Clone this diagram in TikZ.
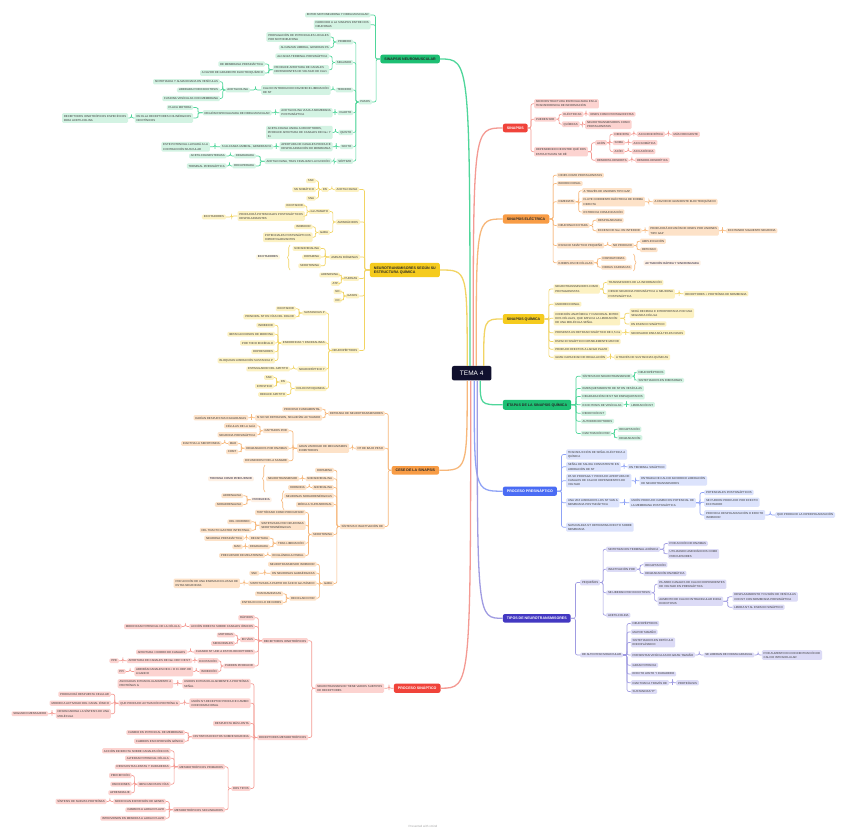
\documentclass[tikz,border=0pt]{standalone}
\usepackage{fontspec}
\setmainfont{Liberation Sans}
\usetikzlibrary{calc,decorations.pathreplacing}

% colori dei rami
\definecolor{navy}{HTML}{10102E}
\definecolor{grmain}{HTML}{1DBF73}
\definecolor{grsub}{HTML}{D3F3E3}
\definecolor{grline}{HTML}{4FD69A}
\definecolor{yemain}{HTML}{F5CB1E}
\definecolor{yesub}{HTML}{FCF1C2}
\definecolor{yeline}{HTML}{F2D463}
\definecolor{ormain}{HTML}{F89C45}
\definecolor{orsub}{HTML}{FDE2C8}
\definecolor{orline}{HTML}{F7B77A}
\definecolor{remain}{HTML}{F0433A}
\definecolor{resub}{HTML}{FCD3D0}
\definecolor{reline}{HTML}{F49A93}
\definecolor{blmain}{HTML}{4A6CF4}
\definecolor{blsub}{HTML}{DCE3FC}
\definecolor{blline}{HTML}{8FA3F6}
\definecolor{inmain}{HTML}{4338C2}
\definecolor{insub}{HTML}{DCDBF6}
\definecolor{inln}{HTML}{A09CE2}

\tikzset{
  sub/.style={rounded corners=1.2pt, inner xsep=1.8pt, inner ysep=1.4pt, align=left,
    text=black!78, font=\fontsize{2.85}{4.3}\selectfont},
  gs/.style={sub, fill=grsub}, ys/.style={sub, fill=yesub}, os/.style={sub, fill=orsub},
  rs/.style={sub, fill=resub}, bs/.style={sub, fill=blsub}, is/.style={sub, fill=insub},
  summ/.style={sub, text=navy},
  mainbox/.style={rounded corners=2pt, inner xsep=4pt, inner ysep=3pt, align=left,
    text=black!85, font=\fontsize{3.6}{4.4}\selectfont\bfseries},
  L/.style={anchor=east}, R/.style={anchor=west},
  lk/.style={to path={(\tikztostart) -| ($(\tikztostart)!.5!(\tikztotarget)$) |- (\tikztotarget)}},
  cn/.style={line width=0.65pt, rounded corners=2pt},
  mainln/.style={line width=1.3pt},
  sumbrace/.style={decorate, decoration={brace, amplitude=2.5pt}, line width=0.6pt},
}

\begin{document}
\begin{tikzpicture}[x=1pt,y=-1pt]
  \fill[white] (0,0) rectangle (848,834);
  \useasboundingbox (0,0) rectangle (848,834);

  % --- nodo centrale ---
  \node[fill=navy, text=white, rounded corners=2pt, inner xsep=8pt, inner ysep=5pt,
    font=\fontsize{6.5}{7}\selectfont] (tema) at (471.7,373.2) {TEMA 4};

  % --- rami principali ---
  \node[mainbox, fill=grmain, L] (nm) at (440,59) {SINAPSIS NEUROMUSCULAR};
  \node[mainbox, fill=yemain, L] (nt) at (440,270) {NEUROTRANSMISORES SEGÚN SU\\ESTRUCTURA QUÍMICA};
  \node[mainbox, fill=ormain, L] (ce) at (439.3,470.3) {CESE DE LA SINAPSIS};
  \node[mainbox, fill=remain, text=white, L] (ps) at (440.7,688.2) {PROCESO SINÁPTICO};
  \node[mainbox, fill=remain, text=white, R] (si) at (502.7,128) {SINAPSIS};
  \node[mainbox, fill=ormain, R] (el) at (502.7,219) {SINAPSIS ELÉCTRICA};
  \node[mainbox, fill=yemain, R] (qu) at (502.7,319) {SINAPSIS QUÍMICA};
  \node[mainbox, fill=grmain, R] (et) at (502.7,404.8) {ETAPAS DE LA SINAPSIS QUÍMICA};
  \node[mainbox, fill=blmain, text=white, R] (pr) at (502.7,491.2) {PROCESO PRESINÁPTICO};
  \node[mainbox, fill=inmain, text=white, R] (ti) at (502.7,618.3) {TIPOS DE NEUROTRANSMISORES};

  % archi dal centro
  \coordinate (s1) at ([xshift=-1.7pt]tema.north);
  \coordinate (s2) at ([xshift=-4.5pt]tema.north);
  \coordinate (s3) at ([xshift=1.5pt]tema.north);
  \coordinate (s4) at ([xshift=4.5pt]tema.north);
  \coordinate (s5) at ([xshift=12pt]tema.north);
  \coordinate (t1) at ([xshift=-4.5pt]tema.south);
  \coordinate (t2) at ([xshift=-1pt]tema.south);
  \coordinate (t3) at ([xshift=2.5pt]tema.south);
  \coordinate (t4) at ([xshift=5.5pt]tema.south);
  \coordinate (t5) at ([xshift=8.5pt]tema.south);
  \draw[mainln, grline] (s1) .. controls (s1 |- nm.east) .. (nm.east);
  \draw[mainln, yeline] (s2) .. controls (s2 |- nt.east) .. (nt.east);
  \draw[mainln, reline] (s3) .. controls (s3 |- si.west) .. (si.west);
  \draw[mainln, orline] (s4) .. controls (s4 |- el.west) .. (el.west);
  \draw[mainln, yeline] (s5) .. controls (s5 |- qu.west) .. (qu.west);
  \draw[mainln, orline] (t1) .. controls (t1 |- ce.east) .. (ce.east);
  \draw[mainln, reline] (t2) .. controls (t2 |- ps.east) .. (ps.east);
  \draw[mainln, blline] (t3) .. controls (t3 |- pr.west) .. (pr.west);
  \draw[mainln, inln] (t4) .. controls (t4 |- ti.west) .. (ti.west);
  \draw[mainln, grline] (t5) .. controls (t5 |- et.west) .. (et.west);

  % --- Sinapsis neuromuscolare ---
  \node[gs,L] (nm1) at (370.7,15) {ENTRE MOTONEURONA Y FIBRA MUSCULAR};
  \node[gs,L] (nm2) at (370.7,24.7) {PARECIDO A LA SINAPSIS ENTRE DOS\\NEURONAS};
  \node[gs,L] (nm3) at (372,102) {PASOS};
  \node[gs,L] (nm31) at (353.3,42) {PRIMERO};
  \node[gs,L] (nm32) at (353.3,62.5) {SEGUNDO};
  \node[gs,L] (nm33) at (353.3,90) {TERCERO};
  \node[gs,L] (nm34) at (353.3,112.8) {CUARTO};
  \node[gs,L] (nm35) at (353.3,132.5) {QUINTO};
  \node[gs,L] (nm36) at (353.3,146.8) {SEXTO};
  \node[gs,L] (nm37) at (353.3,161.2) {SÉPTIMO};
  \node[gs,L] (nm311) at (330.7,37) {PROPAGACIÓN DE POTENCIALES LOCALES\\POR MOTONEURONA};
  \node[gs,L] (nm312) at (330.7,47.5) {ALCANZAN UMBRAL, GENERAN PA};
  \node[gs,L] (nm321) at (329.3,56) {ALCANZA TERMINAL PRESINÁPTICA};
  \node[gs,L] (nm322) at (329.3,69.8) {PRODUCE APERTURA DE CANALES\\DEPENDIENTES DE VOLTAJE DE CA2+};
  \node[gs,L] (nm3221) at (265,64) {DE MEMBRANA PRESINÁPTICA};
  \node[gs,L] (nm3222) at (265,73) {A FAVOR DE GRADIENTE ELECTROQUÍMICO};
  \node[gs,L] (nm331) at (330.7,90) {CALCIO INTRODUCIDO FAVORECE LIBERACIÓN\\DE NT};
  \node[gs,L] (nm3311) at (250,90) {ACETILCOLINA};
  \node[gs,L] (nm33111) at (220,81.7) {SINTETIZADA Y ALMACENADA EN VESÍCULAS};
  \node[gs,L] (nm33112) at (220,90) {LIBERADA POR EXOCITOSIS};
  \node[gs,L] (nm33113) at (220,98.5) {FUSIONA VESÍCULAS CON MEMBRANA};
  \node[gs,L] (nm341) at (332.7,112.8) {ACETILCOLINA VIAJA A MEMBRANA\\POSTSINÁPTICA};
  \node[gs,L] (nm3411) at (271.7,112.8) {REGIÓN ESPECIALIZADA DE FIBRA MUSCULAR};
  \node[gs,L] (nm34111) at (193.3,107.5) {PLACA MOTORA};
  \node[gs,L] (nm34112) at (193.3,118) {EN ELLA RECEPTORES COLINÉRGICOS\\NICOTÍNICOS};
  \node[gs,L] (nm341121) at (128.3,118) {RECEPTORES IONOTRÓPICOS ESPECÍFICOS\\PARA ACETILCOLINA};
  \node[gs,L] (nm351) at (332.7,132.5) {ACETILCOLINA UNIDA A RECEPTORES,\\PRODUCE APERTURA DE CANALES DE Na+ Y\\K+};
  \node[gs,L] (nm361) at (332.7,146.8) {APERTURA DE CANALES PRODUCE\\DESPOLARIZACIÓN DE MEMBRANA};
  \node[gs,L] (nm3611) at (273.3,146.8) {SI ALCANZA UMBRAL, GENERAN PA};
  \node[gs,L] (nm36111) at (210,146.8) {ESTE POTENCIAL LLEVARÁ A LA\\CONTRACCIÓN MUSCULAR};
  \node[gs,L] (nm371) at (331.7,161.3) {ACETILCOLINA, TRAS FINALIZAR LA FUNCIÓN};
  \node[gs,L] (nm3711) at (256,156) {DEGRADADA};
  \node[gs,L] (nm37111) at (226.7,156) {ACETILCOLINESTERASA};
  \node[gs,L] (nm3712) at (256,166) {RECUPERADA};
  \node[gs,L] (nm37121) at (226.7,166) {TERMINAL PRESINÁPTICA};
  \foreach \pa/\ch in {nm/nm1, nm/nm2, nm/nm3, nm3/nm31, nm3/nm32, nm3/nm33, nm3/nm34,
      nm3/nm35, nm3/nm36, nm3/nm37, nm31/nm311, nm31/nm312, nm32/nm321, nm32/nm322,
      nm322/nm3221, nm322/nm3222, nm33/nm331, nm331/nm3311, nm3311/nm33111,
      nm3311/nm33112, nm3311/nm33113, nm34/nm341, nm341/nm3411, nm3411/nm34111,
      nm3411/nm34112, nm34112/nm341121, nm35/nm351, nm36/nm361, nm361/nm3611,
      nm3611/nm36111, nm37/nm371, nm371/nm3711, nm371/nm3712, nm3711/nm37111,
      nm3712/nm37121}
    \draw[cn, grline] (\pa.west) to[lk] (\ch.east);

  % --- Neurotrasmettitori ---
  \node[ys,L] (nt1) at (359.3,189.5) {ACETILCOLINA};
  \node[ys,L] (nt11) at (329,189.5) {EN};
  \node[ys,L] (nt111) at (316,180.8) {SNC};
  \node[ys,L] (nt112) at (316,189.5) {SN SOMÁTICO};
  \node[ys,L] (nt113) at (316,198.2) {SNA};
  \node[ys,L] (nt2) at (360,222) {AMINOÁCIDOS};
  \node[ys,L] (nt21) at (330,211.5) {GLUTAMATO};
  \node[ys,L] (nt211) at (305,205.8) {EXCITADOR};
  \node[ys,L] (nt212) at (305,216) {PRODUCIRÁ POTENCIALES POSTSINÁPTICOS\\DESPOLARIZANTES};
  \node[ys,L] (nt2121) at (226,217) {EXCITADORES};
  \node[ys,L] (nt22) at (330,232.5) {GABA};
  \node[ys,L] (nt221) at (312.7,226.8) {INHIBIDOR};
  \node[ys,L] (nt222) at (312.7,237.3) {POTENCIALES POSTSINÁPTICOS\\HIPERPOLARIZANTES};
  \node[ys,L] (nt3) at (360,257) {AMINAS BIÓGENAS};
  \node[ys,L] (nt31) at (321,248.5) {NORADRENALINA};
  \node[ys,L] (nt32) at (321,257) {DOPAMINA};
  \node[ys,L] (nt33) at (321,265.8) {SEROTONINA};
  \node[summ, fill=yesub!50, L] (ntsum) at (280,257) {EXCITADORES};
  \draw[sumbrace, yeline] (290,270) -- (290,245);
  \node[ys,L] (nt4) at (359.3,278.5) {PURINAS};
  \node[ys,L] (nt41) at (340,275) {ADENOSINA};
  \node[ys,L] (nt42) at (340,283.5) {ATP};
  \node[ys,L] (nt5) at (359.3,296) {GASES};
  \node[ys,L] (nt51) at (341.7,291.8) {NO};
  \node[ys,L] (nt52) at (341.7,300.2) {CO};
  \node[ys,L] (nt6) at (359.3,350.5) {NEUROPÉPTIDOS};
  \node[ys,L] (nt61) at (326.7,313) {SUSTANCIAS P};
  \node[ys,L] (nt611) at (296,308.7) {EXCITADOR};
  \node[ys,L] (nt612) at (296,316.7) {PRINCIPAL NT EN VÍAS DEL DOLOR};
  \node[ys,L] (nt62) at (326.7,343) {ENDORFINAS Y ENCEFALINAS};
  \node[ys,L] (nt621) at (275,325.2) {INHIBIDOR};
  \node[ys,L] (nt622) at (275,334.2) {IMITAN ACCIONES DE MORFINA};
  \node[ys,L] (nt623) at (275,343) {POR TODO ENCÉFALO};
  \node[ys,L] (nt624) at (275,351.8) {DEPRESORES};
  \node[ys,L] (nt625) at (275,360.5) {BLOQUEAN LIBERACIÓN SUSTANCIA P};
  \node[ys,L] (nt63) at (326.7,369) {NEUROPÉPTIDO Y};
  \node[ys,L] (nt631) at (290,369) {ESTIMULADOR DEL APETITO};
  \node[ys,L] (nt64) at (326.7,388.5) {COLECISTOQUININA};
  \node[ys,L] (nt641) at (287,382) {EN};
  \node[ys,L] (nt6411) at (274,377.5) {SNC};
  \node[ys,L] (nt6412) at (274,386.2) {INTESTINO};
  \node[ys,L] (nt642) at (287,394.5) {REDUCE APETITO};
  \foreach \pa/\ch in {nt/nt1, nt/nt2, nt/nt3, nt/nt4, nt/nt5, nt/nt6, nt1/nt11,
      nt11/nt111, nt11/nt112, nt11/nt113, nt2/nt21, nt2/nt22, nt21/nt211, nt21/nt212,
      nt212/nt2121, nt22/nt221, nt22/nt222, nt3/nt31, nt3/nt32, nt3/nt33, nt4/nt41,
      nt4/nt42, nt5/nt51, nt5/nt52, nt6/nt61, nt6/nt62, nt6/nt63, nt6/nt64,
      nt61/nt611, nt61/nt612, nt62/nt621, nt62/nt622, nt62/nt623, nt62/nt624,
      nt62/nt625, nt63/nt631, nt64/nt641, nt64/nt642, nt641/nt6411, nt641/nt6412}
    \draw[cn, yeline] (\pa.west) to[lk] (\ch.east);

  % --- Cese de la sinapsis ---
  \node[os,L] (ce1) at (385,413.5) {RETIRADA DE NEUROTRANSMISORES};
  \node[os,L] (ce11) at (322.3,409.2) {PROCESO FUNDAMENTAL};
  \node[os,L] (ce12) at (322.3,417.8) {SI NO SE RETIRASEN, SEGUIRÍAN ACTUANDO};
  \node[os,L] (ce121) at (248.3,417.8) {DARÍAN RESPUESTAS EXAGERADAS};
  \node[os,L] (ce2) at (385,448.2) {NT DE BAJO PESO};
  \node[os,L] (ce21) at (349.3,448.2) {GRAN VARIEDAD DE MECANISMOS\\INHIBITORIOS};
  \node[os,L] (ce211) at (289,430.8) {CAPTADOS POR};
  \node[os,L] (ce2111) at (257.3,425.8) {CÉLULAS DE LA GLÍA};
  \node[os,L] (ce2112) at (257.3,434.8) {NEURONA PRESINÁPTICA};
  \node[os,L] (ce212) at (289,448.2) {DEGRADADOS POR ENZIMAS};
  \node[os,L] (ce2121) at (238.3,443.5) {MAO};
  \node[os,L] (ce21211) at (221.7,443.5) {INACTIVA LA SEROTONINA};
  \node[os,L] (ce2122) at (238.3,451.8) {COMT};
  \node[os,L] (ce213) at (289,460.8) {DIFUNDIDOS POR LA SANGRE};
  \node[os,L] (ce3) at (385,526.5) {SÍNTESIS E INACTIVACIÓN DE};
  \node[os,L] (ce31) at (334,470.2) {DOPAMINA};
  \node[os,L] (ce32) at (334,478.8) {NORADRENALINA};
  \node[os,L] (ce321) at (299.3,478.8) {NEUROTRANSMISOR};
  \node[os,L] (ce33) at (334,487.5) {ADRENALINA};
  \node[os,L] (ce331) at (306.7,487.5) {HORMONA};
  \node[os,L] (ce34) at (334,495.8) {NEURONAS NORADRENÉRGICAS};
  \node[os,L] (ce35) at (334,504.5) {MÉDULA SUPRARRENAL};
  \node[summ, fill=orsub!50, L] (cesum1) at (254,478.8) {TIROSINA COMO PRECURSOR};
  \draw[sumbrace, orline] (265,492) -- (265,465);
  \node[summ, fill=orsub!50, L] (cesum2) at (271.7,499.8) {PRODUCIDA};
  \draw[sumbrace, orline] (284,510) -- (284,490.7);
  \node[os,L] (cesum21) at (243.3,495.8) {ADRENALINA};
  \node[os,L] (cesum22) at (243.3,504.5) {NORADRENALINA};
  \node[os,L] (ce36) at (334,534.5) {SEROTONINA};
  \node[os,L] (ce361) at (305.7,512.5) {TRIPTÓFANO COMO PRECURSOR};
  \node[os,L] (ce362) at (305.7,525.3) {SINTETIZADA POR NEURONAS\\SEROTONINÉRGICAS};
  \node[os,L] (ce3621) at (251.7,521.8) {DEL CEREBRO};
  \node[os,L] (ce3622) at (251.7,530.2) {DEL TRACTO GASTRO INTESTINAL};
  \node[os,L] (ce363) at (305.7,543.2) {TRAS LIBERACIÓN};
  \node[os,L] (ce3631) at (270,538.2) {RECAPTADA};
  \node[os,L] (ce36311) at (244,538.2) {NEURONA PRESINÁPTICA};
  \node[os,L] (ce3632) at (270,546.8) {DEGRADADA};
  \node[os,L] (ce36321) at (242.7,546.8) {MAO};
  \node[os,L] (ce364) at (305.7,555.5) {EN GLÁNDULA PINEAL};
  \node[os,L] (ce3641) at (265,555.5) {PRECURSOR DE MELATONINA};
  \node[os,L] (ce37) at (334,583.5) {GABA};
  \node[os,L] (ce371) at (316.7,564.2) {NEUROTRANSMISOR INHIBIDOR};
  \node[os,L] (ce372) at (316.7,573.2) {EN NEURONAS GABAÉRGICAS};
  \node[os,L] (ce3721) at (259.3,573.2) {SNC};
  \node[os,L] (ce373) at (316.7,583.3) {SINTETIZADA A PARTIR DE ÁCIDO GLUTÁMICO};
  \node[os,L] (ce3731) at (240,583.3) {POR ACCIÓN DE UNA ENZIMA EXCLUSIVA DE\\ESTAS NEURONAS};
  \node[os,L] (ce374) at (316.7,598.2) {RECICLADO POR};
  \node[os,L] (ce3741) at (283.3,593.8) {TRANSAMINASAS};
  \node[os,L] (ce3742) at (283.3,602.5) {ENTRA EN CICLO DE KREBS};
  \foreach \pa/\ch in {ce/ce1, ce/ce2, ce/ce3, ce1/ce11, ce1/ce12, ce12/ce121, ce2/ce21,
      ce21/ce211, ce21/ce212, ce21/ce213, ce211/ce2111, ce211/ce2112, ce212/ce2121,
      ce212/ce2122, ce2121/ce21211, ce3/ce31, ce3/ce32, ce3/ce33, ce3/ce34, ce3/ce35,
      ce3/ce36, ce3/ce37, ce32/ce321, ce33/ce331, ce36/ce361, ce36/ce362, ce36/ce363,
      ce36/ce364, ce362/ce3621, ce362/ce3622, ce363/ce3631, ce363/ce3632,
      ce3631/ce36311, ce3632/ce36321, ce364/ce3641, ce37/ce371, ce37/ce372,
      ce37/ce373, ce37/ce374, ce372/ce3721, ce373/ce3731, ce374/ce3741,
      ce374/ce3742, cesum2/cesum21, cesum2/cesum22}
    \draw[cn, orline] (\pa.west) to[lk] (\ch.east);

  % --- Proceso sináptico ---
  \node[rs,L] (ps1) at (384.3,688.2) {NEUROTRANSMISOR TIENE VARIOS SUBTIPOS\\DE RECEPTORES};
  \node[rs,L] (ps11) at (308.3,640.8) {RECEPTORES IONOTRÓPICOS};
  \node[rs,L] (ps111) at (255,617.7) {RÁPIDOS};
  \node[rs,L] (ps112) at (255,626.5) {ACCIÓN DIRECTA SOBRE CANALES IÓNICOS};
  \node[rs,L] (ps1121) at (181.7,626.5) {MODIFICAN POTENCIAL DE LA CÉLULA};
  \node[rs,L] (ps113) at (255,639.5) {EN VÍAS};
  \node[rs,L] (ps1131) at (235,635) {MOTORAS};
  \node[rs,L] (ps1132) at (235,643.5) {SENSORIALES};
  \node[rs,L] (ps114) at (255,652) {CUANDO NT UNE A ESTOS RECEPTORES};
  \node[rs,L] (ps1141) at (187.3,652) {APERTURA / CIERRE DE CANALES};
  \node[rs,L] (ps115) at (255,666) {PUEDEN PRODUCIR};
  \node[rs,L] (ps1151) at (218.7,660.8) {EXCITACIÓN};
  \node[rs,L] (ps11511) at (192.3,660.8) {APERTURA DE CANALES DE Na+ DEP. DE NT};
  \node[rs,L] (ps115111) at (119,660.8) {PPE};
  \node[rs,L] (ps1152) at (218.7,671.5) {INHIBICIÓN};
  \node[rs,L] (ps11521) at (193.3,671.5) {ABRIRÁN CANALES DE K+ O Cl- DEP. DE\\LIGANDO};
  \node[rs,L] (ps115211) at (126,671.5) {PPI};
  \node[rs,L] (ps12) at (308.3,737.5) {RECEPTORES METABOTRÓPICOS};
  \node[rs,L] (ps121) at (250.7,683.7) {UNIDOS EXTRACELULARMENTE A PROTEÍNAS\\SEÑAL};
  \node[rs,L] (ps1211) at (173.3,683.7) {ASOCIADAS INTRACELULARMENTE A\\PROTEÍNAS G};
  \node[rs,L] (ps122) at (250.7,703.2) {UNIÓN NT-RECEPTOR PRODUCE CAMBIO\\CONFORMACIONAL};
  \node[rs,L] (ps1221) at (180,703.2) {QUE PRODUCE ACTIVACIÓN PROTEÍNA G};
  \node[rs,L] (ps12211) at (111,694.2) {PRODUCIRÁ RESPUESTA CELULAR};
  \node[rs,L] (ps12212) at (111,703.2) {MODIFICA ACTIVIDAD DEL CANAL IÓNICO};
  \node[rs,L] (ps12213) at (111,713.7) {DESENCADENA LA SÍNTESIS DE UNA\\MOLÉCULA};
  \node[rs,L] (ps122131) at (48.3,713.7) {SEGUNDO MENSAJERO};
  \node[rs,L] (ps123) at (250.7,723.5) {RESPUESTA MÁS LENTA};
  \node[rs,L] (ps124) at (250.7,736.8) {DISTINTOS EFECTOS SOBRE NEURONA};
  \node[rs,L] (ps1241) at (185,732.5) {CAMBIO EN POTENCIAL DE MEMBRANA};
  \node[rs,L] (ps1242) at (185,741.2) {CAMBIOS EN EXPRESIÓN GÉNICA};
  \node[rs,L] (ps125) at (250.7,788.5) {DOS TIPOS};
  \node[rs,L] (ps1251) at (225,766.8) {METABOTRÓPICOS PRIMARIOS};
  \node[rs,L] (ps12511) at (170.7,750.8) {ACCIÓN INDIRECTA SOBRE CANALES IÓNICOS};
  \node[rs,L] (ps12512) at (170.7,758.2) {ALTERAN POTENCIAL CÉLULA};
  \node[rs,L] (ps12513) at (170.7,766.8) {RESPUESTAS LENTAS Y DURADERAS};
  \node[rs,L] (ps12514) at (170.7,784.2) {IMPLICADOS EN VÍAS};
  \node[rs,L] (ps125141) at (131.7,775.5) {PERCEPCIÓN};
  \node[rs,L] (ps125142) at (131.7,784.2) {EMOCIONES};
  \node[rs,L] (ps125143) at (131.7,792.8) {APRENDIZAJE};
  \node[rs,L] (ps1252) at (225,809.8) {METABOTRÓPICOS SECUNDARIOS};
  \node[rs,L] (ps12521) at (166,801.5) {MODIFICAN EXPRESIÓN DE GENES};
  \node[rs,L] (ps125211) at (106.7,801.5) {SÍNTESIS DE NUEVAS PROTEÍNAS};
  \node[rs,L] (ps12522) at (166,809.8) {CAMBIOS A LARGO PLAZO};
  \node[rs,L] (ps12523) at (166,818.2) {INTERVIENEN EN MEMORIA A LARGO PLAZO};
  \foreach \pa/\ch in {ps/ps1, ps1/ps11, ps1/ps12, ps11/ps111, ps11/ps112, ps11/ps113,
      ps11/ps114, ps11/ps115, ps112/ps1121, ps113/ps1131, ps113/ps1132, ps114/ps1141,
      ps115/ps1151, ps115/ps1152, ps1151/ps11511, ps11511/ps115111, ps1152/ps11521,
      ps11521/ps115211, ps12/ps121, ps12/ps122, ps12/ps123, ps12/ps124, ps12/ps125,
      ps121/ps1211, ps122/ps1221, ps1221/ps12211, ps1221/ps12212, ps1221/ps12213,
      ps12213/ps122131, ps124/ps1241, ps124/ps1242, ps125/ps1251, ps125/ps1252,
      ps1251/ps12511, ps1251/ps12512, ps1251/ps12513, ps1251/ps12514,
      ps12514/ps125141, ps12514/ps125142, ps12514/ps125143, ps1252/ps12521,
      ps1252/ps12522, ps1252/ps12523, ps12521/ps125211}
    \draw[cn, reline] (\pa.west) to[lk] (\ch.east);

  \node[text=black!35, font=\fontsize{3}{3}\selectfont] (credit) at (423,826.5) {Presented with xmind};

  % --- Sinapsis ---
  \node[rs,R] (si1) at (534,103.8) {MICROESTRUCTURA ESPECIALIZADA EN LA\\TRANSFERENCIA DE INFORMACIÓN};
  \node[rs,R] (si2) at (534,119.2) {PUEDEN SER};
  \node[rs,R] (si21) at (561.7,114.2) {ELÉCTRICAS};
  \node[rs,R] (si211) at (588.3,114.2) {IONES COMO PROTAGONISTAS};
  \node[rs,R] (si22) at (561.7,124.2) {QUÍMICAS};
  \node[rs,R] (si221) at (585,124.5) {NEUROTRANSMISORES COMO\\PROTAGONISTAS};
  \node[rs,R] (si3) at (534,151.7) {DEPENDIENDO DE ENTRE QUÉ DOS\\ESTRUCTURAS SE DÉ};
  \node[rs,R] (si31) at (595,142.8) {AXÓN};
  \node[rs,R] (si311) at (612.7,134.2) {DENDRITA};
  \node[rs,R] (si3111) at (636.7,134.2) {AXO-DENDRÍTICA};
  \node[rs,R] (si31111) at (671.7,134.2) {MÁS FRECUENTE};
  \node[rs,R] (si312) at (612.7,142.8) {SOMA};
  \node[rs,R] (si3121) at (631.7,142.8) {AXO-SOMÁTICA};
  \node[rs,R] (si313) at (612.7,151.5) {AXÓN};
  \node[rs,R] (si3131) at (631.7,151.5) {AXO-AXÓNICA};
  \node[rs,R] (si32) at (595,160.2) {DENDRITA-DENDRITA};
  \node[rs,R] (si321) at (635,160.2) {DENDRO-DENDRÍTICA};
  \foreach \pa/\ch in {si/si1, si/si2, si/si3, si2/si21, si2/si22, si21/si211,
      si22/si221, si3/si31, si3/si32, si31/si311, si31/si312, si31/si313,
      si311/si3111, si3111/si31111, si312/si3121, si313/si3131, si32/si321}
    \draw[cn, reline] (\pa.east) to[lk] (\ch.west);

  % --- Sinapsis eléctrica ---
  \node[os,R] (el1) at (556.7,175.2) {IONES COMO PROTAGONISTAS};
  \node[os,R] (el2) at (556.7,183.5) {BIDIRECCIONAL};
  \node[os,R] (el3) at (556.7,201.8) {INMEDIATA};
  \node[os,R] (el31) at (581.7,190.8) {A TRAVÉS DE UNIONES TIPO GAP};
  \node[os,R] (el32) at (581.7,201.7) {FLUYE CORRIENTE ELÉCTRICA DE FORMA\\DIRECTA};
  \node[os,R] (el321) at (652.7,201.8) {A FAVOR DE GRADIENTE ELECTROQUÍMICO};
  \node[os,R] (el33) at (581.7,212) {ESTRECHA COMUNICACIÓN};
  \node[os,R] (el4) at (556.7,225.5) {NEURONA EXCITADA};
  \node[os,R] (el41) at (596,220.2) {DESPOLARIZADA};
  \node[os,R] (el42) at (596,230.8) {EXCESO DE Na+ EN INTERIOR};
  \node[os,R] (el421) at (648.3,230.8) {PRODUCIRÁ DIFUSIÓN DE IONES POR UNIONES\\TIPO GAP};
  \node[os,R] (el4211) at (726,230.8) {EXCITANDO SIGUIENTE NEURONA};
  \node[os,R] (el5) at (556.7,245.5) {ESPACIO SINÁPTICO PEQUEÑO};
  \node[os,R] (el51) at (611,245.5) {NO PRODUCE};
  \node[os,R] (el511) at (640,241.2) {AMPLIFICACIÓN};
  \node[os,R] (el512) at (640,249.8) {RETRASO};
  \node[os,R] (el6) at (556.7,262.8) {EJEMPLOS DE CÉLULAS};
  \node[os,R] (el61) at (600.7,258.5) {INSPIRATORIAS};
  \node[os,R] (el62) at (600.7,267.2) {FIBRAS CARDIACAS};
  \draw[sumbrace, orline] (633.5,254) -- (633.5,271);
  \node[summ, fill=orsub!50, R] (elsum) at (643.3,263) {ACTIVACIÓN RÁPIDA Y SINCRONIZADA};
  \foreach \pa/\ch in {el/el1, el/el2, el/el3, el/el4, el/el5, el/el6, el3/el31,
      el3/el32, el3/el33, el32/el321, el4/el41, el4/el42, el42/el421, el421/el4211,
      el5/el51, el51/el511, el51/el512, el6/el61, el6/el62}
    \draw[cn, orline] (\pa.east) to[lk] (\ch.west);

  % --- Sinapsis química ---
  \node[ys,R] (qu1) at (553.3,289) {NEUROTRANSMISORES COMO\\PROTAGONISTAS};
  \node[ys,R] (qu11) at (606.7,282.5) {TRANSMISORES DE LA INFORMACIÓN};
  \node[ys,R] (qu12) at (606.7,293.8) {DESDE NEURONA PRESINÁPTICA A NEURONA\\POSTSINÁPTICA};
  \node[ys,R] (qu121) at (683.3,293.8) {RECEPTORES + PROTEÍNAS DE MEMBRANA};
  \node[ys,R] (qu2) at (553.3,304.2) {UNIDIRECCIONAL};
  \node[ys,R] (qu3) at (553.3,318.3) {CONEXIÓN ANATÓMICA Y FUNCIONAL ENTRE\\DOS CÉLULAS, QUE IMPLICA LA LIBERACIÓN\\DE UNA MOLÉCULA SEÑAL};
  \node[ys,R] (qu31) at (629.3,313.2) {SERÁ RECIBIDA E INTERPRETADA POR UNA\\SEGUNDA CÉLULA};
  \node[ys,R] (qu32) at (629.3,324) {EN ESPACIO SINÁPTICO};
  \node[ys,R] (qu4) at (553.3,332.8) {PRESENTA UN RETRASO SINÁPTICO DE 0,5 ms};
  \node[ys,R] (qu41) at (629.3,332.8) {NECESARIO PARA MÚLTIPLES PASOS};
  \node[ys,R] (qu5) at (553.3,341.5) {ESPACIO SINÁPTICO NOTABLEMENTE MAYOR};
  \node[ys,R] (qu6) at (553.3,349.2) {PRODUCE EFECTOS A LARGO PLAZO};
  \node[ys,R] (qu7) at (553.3,357.2) {GRAN CAPACIDAD DE REGULACIÓN};
  \node[ys,R] (qu71) at (614,357.2) {A TRAVÉS DE SUSTANCIAS QUÍMICAS};
  \foreach \pa/\ch in {qu/qu1, qu/qu2, qu/qu3, qu/qu4, qu/qu5, qu/qu6, qu/qu7,
      qu1/qu11, qu1/qu12, qu12/qu121, qu3/qu31, qu3/qu32, qu4/qu41, qu7/qu71}
    \draw[cn, yeline] (\pa.east) to[lk] (\ch.west);

  % --- Etapas ---
  \node[gs,R] (et1) at (580.7,376.2) {SÍNTESIS DE NEUROTRANSMISOR};
  \node[gs,R] (et11) at (636.7,372.2) {NEUROPÉPTIDOS};
  \node[gs,R] (et12) at (636.7,380.3) {SINTETIZADOS EN RIBOSOMAS};
  \node[gs,R] (et2) at (580.7,388.5) {EMPAQUETAMIENTO DE NT EN VESÍCULAS};
  \node[gs,R] (et3) at (580.7,396.5) {DEGRADACIÓN DE NT NO EMPAQUETADOS};
  \node[gs,R] (et4) at (580.7,404.8) {EXOCITOSIS DE VESÍCULAS};
  \node[gs,R] (et41) at (629.3,404.8) {LIBERACIÓN NT};
  \node[gs,R] (et5) at (580.7,413.2) {RECEPCIÓN NT};
  \node[gs,R] (et6) at (580.7,421.2) {AUTORRECEPTORES};
  \node[gs,R] (et7) at (580.7,433.5) {INACTIVACIÓN POR};
  \node[gs,R] (et71) at (617.3,429.2) {RECAPTACIÓN};
  \node[gs,R] (et72) at (617.3,437.8) {DEGRADACIÓN};
  \foreach \pa/\ch in {et/et1, et/et2, et/et3, et/et4, et/et5, et/et6, et/et7,
      et1/et11, et1/et12, et4/et41, et7/et71, et7/et72}
    \draw[cn, grline] (\pa.east) to[lk] (\ch.west);

  % --- Proceso presináptico ---
  \node[bs,R] (pr1) at (566,454.5) {TRANSDUCCIÓN DE SEÑAL ELÉCTRICA A\\QUÍMICA};
  \node[bs,R] (pr2) at (566,466.8) {SEÑAL DE SALIDA CONSISTENTE EN\\LIBERACIÓN DE NT};
  \node[bs,R] (pr21) at (627.3,466.8) {EN TERMINAL SINÁPTICO};
  \node[bs,R] (pr3) at (566,480.7) {PA SE PROPAGA Y PRODUCE APERTURA DE\\CANALES DE CALCIO DEPENDIENTES DE\\VOLTAJE};
  \node[bs,R] (pr31) at (639.3,480.8) {ENTRADA DE CALCIO FAVORECE LIBERACIÓN\\DE NEUROTRANSMISORES};
  \node[bs,R] (pr4) at (566,502.8) {UNA VEZ LIBERADOS LOS NT VAN A\\MEMBRANA POSTSINÁPTICA};
  \node[bs,R] (pr41) at (629.3,502.8) {UNIÓN PRODUCE CAMBIO EN POTENCIAL DE\\LA MEMBRANA POSTSINÁPTICA};
  \node[bs,R] (pr411) at (704,492.5) {POTENCIALES POSTSINÁPTICOS};
  \node[bs,R] (pr412) at (704,502.2) {SE PUEDEN PRODUCIR POR EFECTO\\EXCITADOR};
  \node[bs,R] (pr413) at (704,515) {PROVOCA DESPOLARIZACIÓN O EFECTO\\INHIBIDOR};
  \node[bs,R] (pr4131) at (775,515) {QUE PRODUCE LA HIPERPOLARIZACIÓN};
  \node[bs,R] (pr5) at (566,527.2) {NATURALEZA NT DETERMINA EFECTO SOBRE\\MEMBRANA};
  \foreach \pa/\ch in {pr/pr1, pr/pr2, pr/pr3, pr/pr4, pr/pr5, pr2/pr21, pr3/pr31,
      pr4/pr41, pr41/pr411, pr41/pr412, pr41/pr413, pr413/pr4131}
    \draw[cn, blline] (\pa.east) to[lk] (\ch.west);

  % --- Tipos de neurotransmisores ---
  \node[is,R] (ti1) at (580,582.5) {PEQUEÑOS};
  \node[is,R] (ti11) at (606,549.2) {SINTETIZAN EN TERMINAL AXÓNICA};
  \node[is,R] (ti111) at (667.7,543.5) {POR ACCIÓN DE ENZIMAS};
  \node[is,R] (ti112) at (667.7,553.8) {UTILIZANDO AMINOÁCIDOS COMO\\PRECURSORES};
  \node[is,R] (ti12) at (606,569.2) {INACTIVACIÓN POR};
  \node[is,R] (ti121) at (643.3,564.8) {RECAPTACIÓN};
  \node[is,R] (ti122) at (643.3,573.5) {DEGRADACIÓN ENZIMÁTICA};
  \node[is,R] (ti13) at (606,592.8) {SE LIBERAN POR EXOCITOSIS};
  \node[is,R] (ti131) at (657.3,584.2) {PA ABRE CANALES DE CALCIO DEPENDIENTES\\DE VOLTAJE EN PRESINÁPTICA};
  \node[is,R] (ti132) at (657.3,601.2) {AUMENTO DE CALCIO INTRACELULAR INICIA\\EXOCITOSIS};
  \node[is,R] (ti1321) at (732.3,596.8) {DESPLAZAMIENTO Y FUSIÓN DE VESÍCULAS\\CON NT CON MEMBRANA PRESINÁPTICA};
  \node[is,R] (ti1322) at (732.3,607.2) {LIBERA NT AL ESPACIO SINÁPTICO};
  \node[is,R] (ti14) at (606,615.2) {ACETILCOLINA};
  \node[is,R] (ti2) at (580,655) {DE ALTO PESO MOLECULAR};
  \node[is,R] (ti21) at (630.7,623.5) {NEUROPÉPTIDOS};
  \node[is,R] (ti22) at (630.7,632) {MAYOR TAMAÑO};
  \node[is,R] (ti23) at (630.7,642.5) {SINTETIZADOS EN RETÍCULO\\ENDOPLÁSMICO};
  \node[is,R] (ti24) at (630.7,655) {PRESENTAN VESÍCULAS DE GRAN TAMAÑO};
  \node[is,R] (ti241) at (703.3,655) {SE LIBERAN DE FORMA GRADUAL};
  \node[is,R] (ti2411) at (761.7,655) {POR AUMENTO EN CONCENTRACIÓN DE\\CALCIO INTRACELULAR};
  \node[is,R] (ti25) at (630.7,665.2) {GRAN POTENCIA};
  \node[is,R] (ti26) at (630.7,674) {EFECTO LENTO Y DURADERO};
  \node[is,R] (ti27) at (630.7,682.8) {INACTIVAN A TRAVÉS DE};
  \node[is,R] (ti271) at (676,682.8) {PROTEÓLISIS};
  \node[is,R] (ti28) at (630.7,691.5) {SUSTANCIAS "P"};
  \foreach \pa/\ch in {ti/ti1, ti/ti2, ti1/ti11, ti1/ti12, ti1/ti13, ti1/ti14,
      ti11/ti111, ti11/ti112, ti12/ti121, ti12/ti122, ti13/ti131, ti13/ti132,
      ti132/ti1321, ti132/ti1322, ti2/ti21, ti2/ti22, ti2/ti23, ti2/ti24, ti2/ti25,
      ti2/ti26, ti2/ti27, ti2/ti28, ti24/ti241, ti241/ti2411, ti27/ti271}
    \draw[cn, inln] (\pa.east) to[lk] (\ch.west);
\end{tikzpicture}
\end{document}
